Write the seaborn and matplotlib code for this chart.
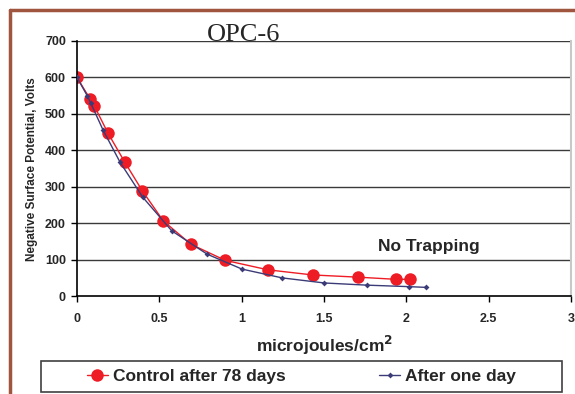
import matplotlib
matplotlib.use("Agg")
import matplotlib.pyplot as plt
import seaborn as sns
from matplotlib.lines import Line2D
from matplotlib.patches import Rectangle

# Data
control_x = [0.0, 0.079, 0.105, 0.186, 0.29, 0.397, 0.524, 0.692, 0.90, 1.16, 1.431, 1.704, 1.937, 2.022]
control_y = [600, 541, 522, 449, 368, 289, 207, 143, 99, 73, 59, 53, 47, 47]
oneday_x = [0.0, 0.063, 0.083, 0.158, 0.261, 0.399, 0.575, 0.79, 1.002, 1.245, 1.502, 1.763, 2.014, 2.117]
oneday_y = [600, 549, 530, 456, 368, 272, 180, 116, 75, 51, 37, 31, 27, 25]
xticks = [0, 0.5, 1, 1.5, 2, 2.5, 3]
xticklabels = ["0", "0.5", "1", "1.5", "2", "2.5", "3"]
yticks = [0, 100, 200, 300, 400, 500, 600, 700]

sns.set_style("white")
plt.rcParams['font.family'] = ['Liberation Sans', 'DejaVu Sans']

fig = plt.figure(figsize=(5.75, 3.94), dpi=100)
ax = fig.add_axes([0.134, 0.2475, 0.859, 0.6485])

red = "#EE1C25"
navy = "#3B3B78"

sns.lineplot(x=oneday_x, y=oneday_y, ax=ax, color=navy, lw=1.0, marker="D",
             markersize=3, markeredgewidth=0, sort=False, zorder=3)
sns.lineplot(x=control_x, y=control_y, ax=ax, color=red, lw=1.0, marker="o",
             markersize=9, markeredgewidth=0, sort=False, zorder=2)

ax.set_xlim(0, 3)
ax.set_ylim(0, 700)
ax.set_xticks(xticks)
ax.set_xticklabels(xticklabels)
ax.set_yticks(yticks)
for y in yticks[1:]:
    ax.axhline(y, color="#3a3a3a", lw=1.0, zorder=1)

for lab in ax.get_xticklabels() + ax.get_yticklabels():
    lab.set_fontweight("bold")
    lab.set_fontsize(9)
ax.tick_params(axis="x", direction="out", length=4, width=1, color="black", pad=8)
ax.tick_params(axis="y", direction="out", length=4, width=1, color="black", pad=4)
ax.tick_params(bottom=True, left=True)

ax.spines["top"].set_visible(False)
ax.spines["right"].set_color("#c8c8c8")
ax.spines["right"].set_linewidth(1.5)
ax.spines["left"].set_color("black")
ax.spines["bottom"].set_color("black")
ax.spines["left"].set_linewidth(1.2)
ax.spines["bottom"].set_linewidth(1.2)

ax.set_xlabel("microjoules/cm$^\\mathbf{2}$", fontsize=12.5, fontweight="bold", labelpad=6)
ax.set_ylabel("Negative Surface Potential, Volts", fontsize=8.5, fontweight="bold", labelpad=5)

ax.text(2.137, 136, "No Trapping", fontsize=12.5, fontweight="bold", ha="center", va="center")

fig.text(0.423, 1 - 41/394, "OPC-6", fontsize=19, family="Liberation Serif", ha="center", va="baseline")

# legend frame
fig.add_artist(Rectangle((41/575, 1 - 392/394), 521/575, 31/394, transform=fig.transFigure,
                         fill=False, edgecolor="#404040", lw=1.2))

handles = [Line2D([0], [0], color=red, lw=1.0, marker="o", markersize=9, markeredgewidth=0),
           Line2D([0], [0], color=navy, lw=1.0, marker="D", markersize=3, markeredgewidth=0)]
leg = fig.legend(handles, ["Control after 78 days", "After one day"], ncol=2,
                 loc="center", bbox_to_anchor=(301.5/575, 1 - 376.5/394),
                 frameon=False, prop={"weight": "bold", "size": 12.5},
                 handlelength=1.2, handletextpad=0.3, borderpad=0, borderaxespad=0,
                 columnspacing=5.4)

# outer border (top and left)
fig.add_artist(Line2D([10/575, 1.0], [1 - 10/394, 1 - 10/394], color="#A0553F", lw=2.5,
                      transform=fig.transFigure))
fig.add_artist(Line2D([10/575, 10/575], [0.0, 1 - 10/394], color="#A0553F", lw=2.5,
                      transform=fig.transFigure))

fig.savefig("out.png", dpi=100)
